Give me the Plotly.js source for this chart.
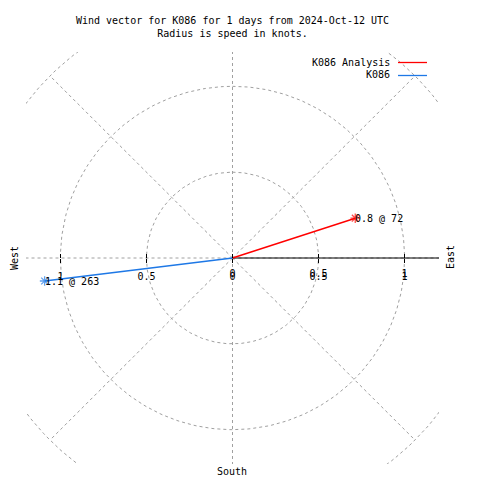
<!DOCTYPE html>
<html><head><meta charset="utf-8">
<script src="https://cdn.plot.ly/plotly-3.0.1.min.js"></script>
<style>html,body{margin:0;padding:0;background:#fff}#chart{width:480px;height:480px}</style>
</head><body><div id="chart"></div>
<script>
// ---- data ----
const seriesNames = ['K086 Analysis', 'K086'];
const seriesColors = ['#ff0000', '#1e78e6'];
const windSpeeds = [0.75, 1.1];      // knots
const windDirs = [72, 263];          // degrees from north
const ringRadii = [0.5, 1.0, 1.5];
const spokeAngles = [0, 45, 90, 135, 180, 225, 270, 315];
const tickVals = [-1, -0.5, 0, 0.5, 1];
const tickText = ['1', '0.5', '0', '0.5', '1'];
const tickText2 = ['', '', '0', '0.5', '1'];
const compassLabels = ['West', 'East', 'South'];
const titleLines = ['Wind vector for K086 for 1 days from 2024-Oct-12 UTC', 'Radius is speed in knots.'];

// ---- geometry helpers ----
const M = {l: 26, r: 41, t: 52, b: 16};
const PW = 480 - M.l - M.r, PH = 480 - M.t - M.b;
const px = x => (x - M.l) / PW;
const py = y => (480 - M.b - y) / PH;
const rad = d => d * Math.PI / 180;
const FONT = 'DejaVu Sans Mono, Liberation Mono, monospace';
const GRID = '#a0a0a0';

const traces = [];
// rings
ringRadii.forEach(r => {
  const xs = [], ys = [];
  for (let a = 0; a <= 360; a += 1) { xs.push(r * Math.sin(rad(a))); ys.push(r * Math.cos(rad(a))); }
  traces.push({x: xs, y: ys, mode: 'lines', line: {color: GRID, width: 1, dash: '3px,3px'}, hoverinfo: 'skip'});
});
// spokes
const sx = [], sy = [];
const rMax = ringRadii[ringRadii.length - 1];
spokeAngles.forEach(a => { sx.push(0, rMax * Math.sin(rad(a)), null); sy.push(0, rMax * Math.cos(rad(a)), null); });
traces.push({x: sx, y: sy, mode: 'lines', line: {color: GRID, width: 1, dash: '3px,3px'}, hoverinfo: 'skip'});
// black east half-axis
traces.push({x: [0, 1.2], y: [0, 0], mode: 'lines', line: {color: '#000', width: 1}, hoverinfo: 'skip'});
// wind vectors
const annotations = [];
windSpeeds.forEach((s, i) => {
  const ex = s * Math.sin(rad(windDirs[i])), ey = s * Math.cos(rad(windDirs[i]));
  traces.push({x: [0, ex], y: [0, ey], mode: 'lines+markers', name: seriesNames[i],
    line: {color: seriesColors[i], width: 1.4},
    marker: {symbol: 'asterisk-open', size: [0, 8], line: {color: seriesColors[i], width: 1.3}, color: seriesColors[i]},
    hoverinfo: 'skip'});
  annotations.push({x: ex, y: ey, xref: 'x', yref: 'y', showarrow: false, xanchor: 'left', yanchor: 'middle',
    xshift: -2, yshift: 0, text: (Math.round(s * 10) / 10).toFixed(1) + ' @ ' + windDirs[i],
    font: {family: FONT, size: 10, color: '#000'}});
});
// invisible trace for x2
traces.push({x: [0], y: [0], xaxis: 'x2', yaxis: 'y', mode: 'markers', marker: {opacity: 0}, hoverinfo: 'skip'});

// legend (manual: text then line)
const shapes = [];
seriesNames.forEach((n, i) => {
  const yy = 62 + 13 * i;
  annotations.push({x: px(392), y: py(yy), xref: 'paper', yref: 'paper', xanchor: 'right', yanchor: 'middle',
    showarrow: false, text: n, font: {family: FONT, size: 10, color: '#000'}});
  shapes.push({type: 'line', xref: 'paper', yref: 'paper', x0: px(398), x1: px(427), y0: py(yy + 0.5), y1: py(yy + 0.5),
    line: {color: seriesColors[i], width: 1.3}});
});
// compass labels
const compassPos = [[14, 258, -90], [450, 257, -90], [232, 471, 0]];
compassLabels.forEach((t, i) => {
  const [cx, cy, ang] = compassPos[i];
  annotations.push({x: px(cx), y: py(cy), xref: 'paper', yref: 'paper', xanchor: 'center', yanchor: 'middle',
    showarrow: false, text: t, textangle: ang, font: {family: FONT, size: 10, color: '#000'}});
});

const axisCommon = {range: [-1.2, 1.2], showgrid: false, zeroline: false, showline: false, fixedrange: true,
  anchor: 'free', position: 0.5, tickmode: 'array', tickvals: tickVals, tickcolor: '#000', tickwidth: 1,
  tickfont: {family: FONT, size: 10, color: '#000'}};

const layout = {
  width: 480, height: 480, margin: M, paper_bgcolor: '#fff', plot_bgcolor: '#fff',
  showlegend: false, hovermode: false,
  title: {text: titleLines.join('<br>'), x: 0.5, xref: 'paper', xanchor: 'center', y: 1 - 24 / 480, yref: 'container', yanchor: 'top',
    font: {family: FONT, size: 10, color: '#000'}},
  xaxis: Object.assign({}, axisCommon, {ticks: 'outside', ticklen: 4, ticktext: tickText, ticklabelstandoff: 5}),
  xaxis2: Object.assign({}, axisCommon, {overlaying: 'x', side: 'bottom', ticks: 'inside', ticklen: 4, ticktext: tickText2, ticklabelstandoff: 8}),
  yaxis: {range: [-1.2, 1.2], visible: false, fixedrange: true},
  annotations: annotations, shapes: shapes
};
Plotly.newPlot('chart', traces, layout, {staticPlot: true, displayModeBar: false});
</script></body></html>
